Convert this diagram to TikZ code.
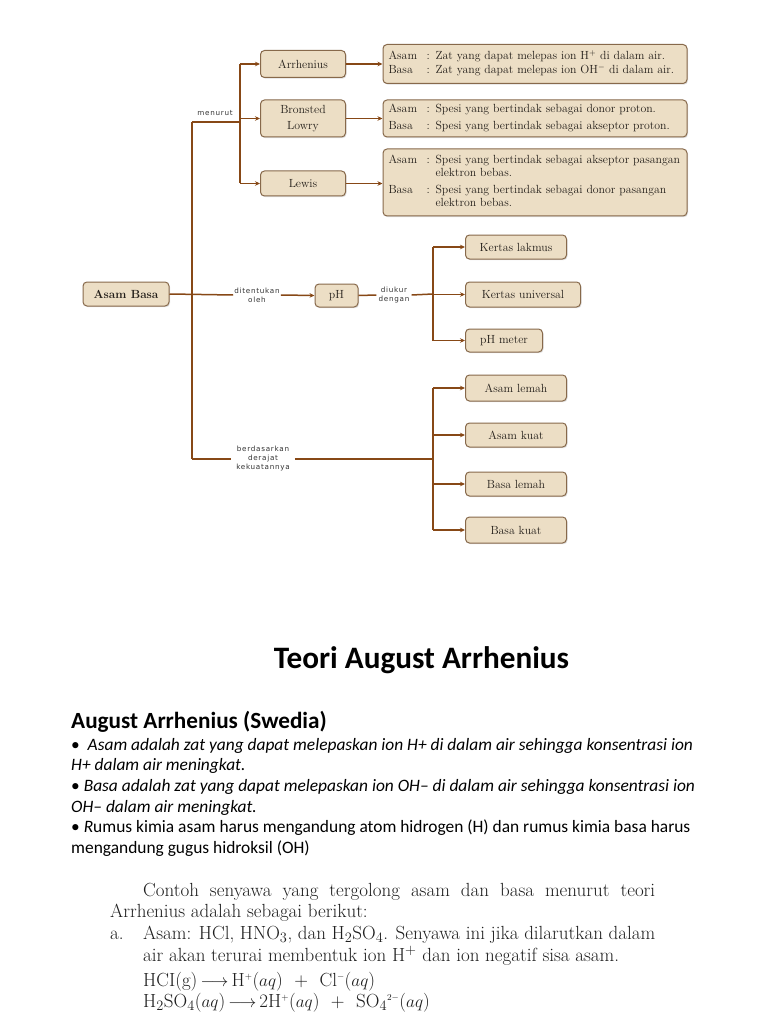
\documentclass[tikz,border=0pt]{standalone}
\usepackage{fontspec}
\newfontfamily\calfont{Carlito}
\newfontfamily\lblfont[LetterSpace=10]{DejaVu Sans}
\usetikzlibrary{arrows.meta,shadows}
\definecolor{boxfill}{RGB}{236,222,197}
\definecolor{boxline}{RGB}{135,105,75}
\definecolor{conn}{RGB}{135,72,22}
\definecolor{ink}{RGB}{35,30,25}
\definecolor{scan}{RGB}{30,30,30}
\begin{document}
\begin{tikzpicture}[x=1pt,y=-1pt,
  bx/.style={draw=boxline, line width=1pt, fill=boxfill, rounded corners=4pt,
    drop shadow={shadow xshift=1pt,shadow yshift=-1.2pt,opacity=0.25},
    inner sep=0pt, text=ink, font=\fontsize{11.8}{13.5}\selectfont, align=center},
  dbx/.style={bx, inner xsep=5.5pt, text width=293pt, align=left, minimum width=304pt},
  ln/.style={draw=conn, line width=1.5pt},
  ar/.style={ln, -{Stealth[length=5pt,width=4.5pt]}},
  lbl/.style={font=\lblfont\fontsize{7.2}{9}\selectfont, text=black!80, align=center, inner ysep=0pt},
  bul/.style={anchor=base west, inner sep=0pt, font=\calfont\fontsize{17.4}{20}\selectfont},
  scn/.style={anchor=base west, inner sep=0pt, text=scan, font=\fontsize{19}{22}\selectfont},
]
\useasboundingbox (0,0) rectangle (768,1024);
\fill[white] (0,0) rectangle (768,1024);

% ---- main node
\node[bx, minimum width=86pt, minimum height=24pt] (ab) at (126,294) {\textbf{Asam Basa}};

% ---- theories
\node[bx, minimum width=85pt, minimum height=27pt] (arr) at (303,64) {Arrhenius};
\node[bx, minimum width=85pt, minimum height=37pt] (bro) at (303,118.5) {Bronsted\\[2.5pt]Lowry};
\node[bx, minimum width=85pt, minimum height=25pt] (lew) at (303,183.5) {Lewis};

\node[dbx, minimum height=39pt] (darr) at (535,64) {%
\begin{tabular}{@{}p{38pt}@{}p{9pt}@{}p{246pt}@{}}
Asam & : & Zat yang dapat melepas ion H$^+$ di dalam air.\\[0pt]
Basa & : & Zat yang dapat melepas ion OH$^-$ di dalam air.
\end{tabular}};
\node[dbx, minimum height=37pt] (dbro) at (535,118.5) {%
\begin{tabular}{@{}p{38pt}@{}p{9pt}@{}p{246pt}@{}}
Asam & : & Spesi yang bertindak sebagai donor proton.\\[3pt]
Basa & : & Spesi yang bertindak sebagai akseptor proton.
\end{tabular}};
\node[dbx, minimum height=67pt] (dlew) at (535,182.5) {%
\begin{tabular}{@{}p{38pt}@{}p{9pt}@{}p{246pt}@{}}
Asam & : & Spesi yang bertindak sebagai akseptor pasangan\linebreak elektron bebas.\\[3pt]
Basa & : & Spesi yang bertindak sebagai donor pasangan\linebreak elektron bebas.
\end{tabular}};

% ---- pH
\node[bx, minimum width=43pt, minimum height=23pt] (ph) at (336.5,295.5) {pH};
\node[bx, anchor=west, minimum width=101pt, minimum height=24pt] (kl) at (465,247) {Kertas lakmus};
\node[bx, anchor=west, minimum width=115pt, minimum height=25pt] (ku) at (465,294.5) {Kertas universal};
\node[bx, anchor=west, minimum width=77pt, minimum height=23pt] (pm) at (465,340.5) {pH meter};

% ---- strength
\node[bx, anchor=west, minimum width=101pt, minimum height=26pt] (al) at (465,388) {Asam lemah};
\node[bx, anchor=west, minimum width=101pt, minimum height=24pt] (ak) at (465,435) {Asam kuat};
\node[bx, anchor=west, minimum width=101pt, minimum height=24pt] (bl) at (465,484) {Basa lemah};
\node[bx, anchor=west, minimum width=101pt, minimum height=26pt] (bk) at (465,530) {Basa kuat};

% ---- labels
\node[lbl, inner xsep=0pt] (lmen) at (215,113) {menurut};
\node[lbl, inner xsep=1pt] (ldit) at (257,295) {ditentukan\\oleh};
\node[lbl, inner xsep=2pt] (lduk) at (394,295) {diukur\\dengan};
\node[lbl, inner xsep=5pt] (lber) at (263,459) {berdasarkan\\derajat\\kekuatannya};

% ---- junction coordinates
\coordinate (top) at (192,122);
\coordinate (bot) at (192,459);
\coordinate (j3) at (240,122);
\coordinate (j2) at (433,294);
\coordinate (j4) at (433,459);

% ---- connectors
\draw[ln] (top) -- (bot);
\draw[ln] (ab.east) -- (ldit.west);
\draw[ar] (ldit.east) -- (ph.west);
\draw[ln] (ph.east) -- (lduk.west);
\draw[ln] (lduk.east) -- (j2);
\draw[ln] (j2 |- kl.west) -- (j2 |- pm.west);
\draw[ar] (j2 |- kl.west) -- (kl.west);
\draw[ar] (j2 |- ku.west) -- (ku.west);
\draw[ar] (j2 |- pm.west) -- (pm.west);

\draw[ln] (top) -- (j3);
\draw[ln] (j3 |- arr.west) -- (j3 |- lew.west);
\draw[ar] (j3 |- arr.west) -- (arr.west);
\draw[ar] (j3 |- bro.west) -- (bro.west);
\draw[ar] (j3 |- lew.west) -- (lew.west);
\draw[ar] (arr.east) -- (arr.east -| darr.west);
\draw[ar] (bro.east) -- (bro.east -| dbro.west);
\draw[ar] (lew.east) -- (lew.east -| dlew.west);

\draw[ln] (bot) -- (lber.west);
\draw[ln] (lber.east) -- (j4);
\draw[ln] (j4 |- al.west) -- (j4 |- bk.west);
\draw[ar] (j4 |- al.west) -- (al.west);
\draw[ar] (j4 |- ak.west) -- (ak.west);
\draw[ar] (j4 |- bl.west) -- (bl.west);
\draw[ar] (j4 |- bk.west) -- (bk.west);

% ---- slide text
\node[anchor=base, inner sep=0pt, font=\calfont\bfseries\fontsize{31.2}{36}\selectfont] (title) at (421.5,668) {Teori August Arrhenius};
\node[anchor=base west, inner sep=0pt, font=\calfont\bfseries\fontsize{23.2}{27}\selectfont] (sub) at (71,728) {August Arrhenius (Swedia)};
\node[bul] (t1) at (71,750) {\textbullet\ \ \textit{Asam adalah zat yang dapat melepaskan ion H+ di dalam air sehingga konsentrasi ion}};
\node[bul] (t2) at (71,770.7) {\textit{H+ dalam air meningkat.}};
\node[bul] (t3) at (71,791.4) {\textbullet\ \textit{Basa adalah zat yang dapat melepaskan ion OH– di dalam air sehingga konsentrasi ion}};
\node[bul] (t4) at (71,812.1) {\textit{OH– dalam air meningkat.}};
\node[bul] (t5) at (71,832.8) {\textbullet\ \textit{R}umus kimia asam harus mengandung atom hidrogen (H) dan rumus kimia basa harus};
\node[bul] (t6) at (71,853.5) {mengandung gugus hidroksil (OH)};

% ---- scanned book text
\node[scn] (b1) at (143,896) {\hbox to 512pt{Contoh senyawa yang tergolong asam dan basa menurut teori}};
\node[scn] (b2) at (110,917) {Arrhenius adalah sebagai berikut:};
\node[scn] (b3a) at (110,939) {a.};
\node[scn] (b3) at (143,939) {\hbox to 512pt{Asam: HCl, HNO$_3$, dan H$_2$SO$_4$. Senyawa ini jika dilarutkan dalam}};
\node[scn] (b4) at (143,961) {air akan terurai membentuk ion H$^+$ dan ion negatif sisa asam.};
\node[scn, font=\fontsize{19}{21}\selectfont] (b5) at (143,986) {%
\begin{tabular}[t]{@{}l@{}}
HCI(g)\,$\longrightarrow$\,H$^{\scriptscriptstyle +}$($aq$)\ \ +\ \ Cl$^{\scriptscriptstyle -}$($aq$)\\
H$_2$SO$_4$($aq$)\,$\longrightarrow$\,2H$^{\scriptscriptstyle +}$($aq$)\ \ +\ \ SO$_4{}^{\scriptscriptstyle 2-}$($aq$)
\end{tabular}};
\end{tikzpicture}
\end{document}
